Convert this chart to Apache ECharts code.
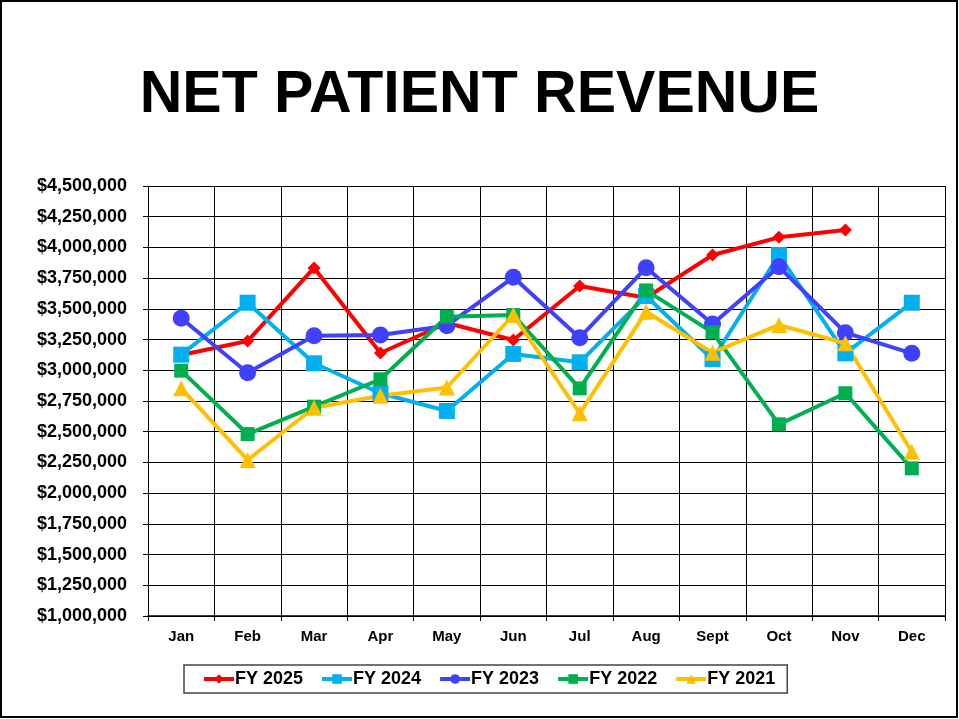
<!DOCTYPE html>
<html>
<head>
<meta charset="utf-8">
<script src="https://cdn.jsdelivr.net/npm/echarts@6/dist/echarts.min.js"></script>
<style>
  html, body { margin: 0; padding: 0; background: #fff; }
  #chart { width: 959px; height: 719px; }
</style>
</head>
<body>
<div id="chart"></div>
<script>
var months = ['Jan', 'Feb', 'Mar', 'Apr', 'May', 'Jun', 'Jul', 'Aug', 'Sept', 'Oct', 'Nov', 'Dec'];
var fy2025 = [3124000, 3238000, 3833000, 3141000, 3385000, 3247000, 3686000, 3590000, 3938000, 4082000, 4142000, null];
var fy2024 = [3127000, 3550000, 3057000, 2813000, 2669000, 3133000, 3065000, 3605000, 3090000, 3938000, 3138000, 3550000];
var fy2023 = [3423000, 2980000, 3282000, 3287000, 3363000, 3757000, 3265000, 3835000, 3377000, 3843000, 3306000, 3138000];
var fy2022 = [2997000, 2481000, 2704000, 2927000, 3436000, 3450000, 2853000, 3650000, 3309000, 2560000, 2813000, 2202000];
var fy2021 = [2853000, 2270000, 2695000, 2793000, 2860000, 3450000, 2650000, 3477000, 3143000, 3369000, 3220000, 2337000];

var font = 'Liberation Sans, Arial, sans-serif';

function makeSeries(name, data, color, symbol, size) {
    return {
        name: name,
        type: 'line',
        data: data,
        symbol: symbol,
        symbolSize: size,
        showAllSymbol: true,
        lineStyle: { color: color, width: 4 },
        itemStyle: { color: color },
        emphasis: { disabled: true }
    };
}

var option = {
    animation: false,
    backgroundColor: '#fff',
    title: {
        text: 'NET PATIENT REVENUE',
        left: 'center',
        top: 61,
        textStyle: { fontFamily: font, fontWeight: 'bold', fontSize: 59, color: '#000' }
    },
    graphic: [{
        type: 'rect',
        shape: { x: 1, y: 1, width: 956, height: 716 },
        style: { fill: null, stroke: '#000', lineWidth: 2 },
        silent: true
    }],
    legend: {
        bottom: 26,
        left: 184,
        itemGap: 17,
        itemWidth: 30,
        itemHeight: 12,
        padding: [5, 12, 5, 18],
        borderColor: '#444',
        borderWidth: 1.5,
        borderRadius: 0,
        lineStyle: { width: 4 },
        textStyle: { fontFamily: font, fontWeight: 'bold', fontSize: 18, color: '#000', padding: [0, 0, 0, -4] },
        data: ['FY 2025', 'FY 2024', 'FY 2023', 'FY 2022', 'FY 2021']
    },
    grid: {
        left: 148,
        right: 14,
        top: 186,
        bottom: 103,
        containLabel: false
    },
    xAxis: {
        type: 'category',
        data: months,
        boundaryGap: true,
        axisLine: { lineStyle: { color: '#000', width: 1.5 } },
        axisTick: { show: true, alignWithLabel: false, length: 5, lineStyle: { color: '#000' } },
        axisLabel: { fontFamily: font, fontWeight: 'bold', fontSize: 15, color: '#000', margin: 13 },
        splitLine: { show: true, lineStyle: { color: '#000', width: 1 } }
    },
    yAxis: {
        type: 'value',
        min: 1000000,
        max: 4500000,
        interval: 250000,
        axisLine: { show: true, lineStyle: { color: '#000', width: 1 } },
        axisTick: { show: true, length: 5, lineStyle: { color: '#000' } },
        axisLabel: {
            fontFamily: font, fontWeight: 'bold', fontSize: 18, color: '#000', margin: 21,
            formatter: function (v) { return '$' + v.toLocaleString('en-US'); }
        },
        splitLine: { show: true, lineStyle: { color: '#000', width: 1 } }
    },
    series: [
        makeSeries('FY 2025', fy2025, '#FF0000', 'diamond', 13),
        makeSeries('FY 2024', fy2024, '#00B0F0', 'rect', 16),
        makeSeries('FY 2023', fy2023, '#4040FF', 'circle', 17),
        makeSeries('FY 2022', fy2022, '#00B050', 'rect', 14),
        makeSeries('FY 2021', fy2021, '#FFC000', 'triangle', 16)
    ]
};

var myChart = echarts.init(document.getElementById('chart'));
myChart.setOption(option);
</script>
</body>
</html>
